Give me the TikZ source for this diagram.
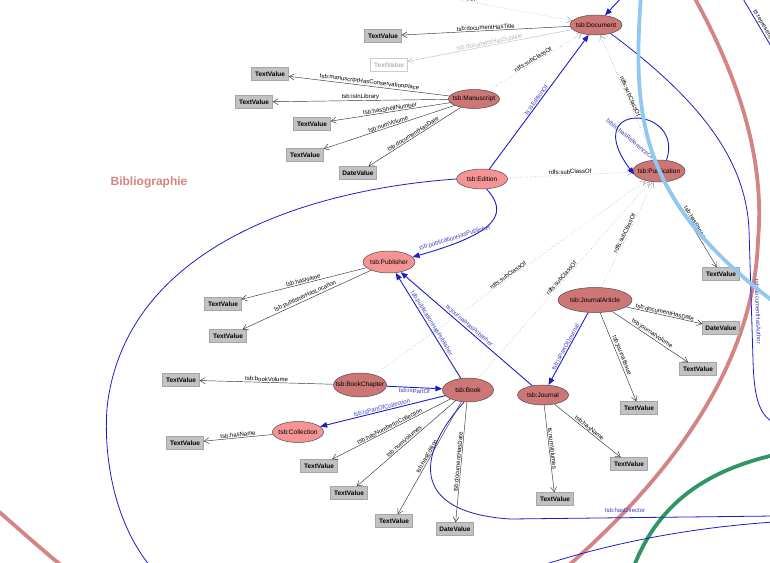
\documentclass[tikz,border=0pt]{standalone}
\usepackage{fontspec}
\setmainfont{Liberation Sans}
\usetikzlibrary{shapes.geometric,arrows.meta}
\definecolor{clsdark}{HTML}{CD7676}
\definecolor{clslight}{HTML}{F49494}
\definecolor{valgray}{HTML}{C2C2C2}
\definecolor{edgeblue}{HTML}{1C1CC8}
\definecolor{lblblue}{HTML}{3A3AB8}
\definecolor{arcred}{HTML}{D48484}
\definecolor{arcblue}{HTML}{90C8F0}
\definecolor{arcgreen}{HTML}{2F9661}
\definecolor{dotgray}{HTML}{9A9A9A}
\newcommand\ctr[1]{\makebox[0pt]{#1}}
\begin{document}
\begin{tikzpicture}[x=1pt,y=-1pt,
 sz/.style 2 args={minimum width=#1pt, minimum height=#2pt},
 cls/.style={ellipse, draw=black!70, line width=0.5pt, inner sep=0pt, font=\fontsize{6.5}{7}\selectfont},
 dark/.style={cls, fill=clsdark},
 light/.style={cls, fill=clslight},
 val/.style={rectangle, fill=valgray, draw=black!35, line width=0.4pt, inner sep=0pt, minimum width=37pt, minimum height=13pt, font=\fontsize{6.5}{7}\selectfont\bfseries},
 ghost/.style={val, fill=white, draw=black!20, text=black!30},
 prop/.style={draw=black!80, line width=0.45pt, -{Straight Barb[length=5pt,width=6pt]}},
 lbl/.style={font=\fontsize{6}{6.5}\selectfont, inner sep=0.8pt, sloped, above},
 blbl/.style={lbl, text=lblblue},
 freelbl/.style={font=\fontsize{6}{6.5}\selectfont, inner sep=0.8pt, text=lblblue},
 rel/.style={draw=edgeblue, line width=0.9pt, -{Triangle[length=7pt,width=5.5pt]}},
 rline/.style={draw=edgeblue, line width=0.8pt},
 sub/.style={draw=dotgray, line width=0.5pt, dotted, -{Straight Barb[length=5pt,width=6pt]}},
 arc/.style={line width=3.8pt}
]
\useasboundingbox (0,0) rectangle (770,562);
\clip (0,0) rectangle (770,562);

% background arcs
\draw[arc, draw=arcred] (693,-5) .. controls (740,80) and (765,160) .. (758,240) .. controls (755,340) and (700,450) .. (568,566);
\draw[arc, draw=arcred] (-3,510) .. controls (20,530) and (40,548) .. (62,566);
\draw[arc, draw=arcgreen] (634,566) .. controls (660,500) and (710,470) .. (774,455);

\node[font=\fontsize{12}{13}\selectfont\bfseries, text=arcred] (bib) at (149,182) {Bibliographie};

% classes
\node[dark, sz={52}{20}] (doc) at (596,25) {\ctr{tsb:Document}};
\node[dark, sz={51}{19}] (man) at (474,99) {\ctr{tsb:Manuscript}};
\node[light, sz={51}{20}] (edi) at (482,179) {\ctr{tsb:Edition}};
\node[dark, sz={52}{22}] (pub) at (659,171) {\ctr{tsb:Publication}};
\node[light, sz={52}{22}] (publ) at (389,262) {\ctr{tsb:Publisher}};
\node[dark, sz={74}{25}] (ja) at (595,300) {\ctr{tsb:JournalArticle}};
\node[dark, sz={53}{24}] (bc) at (360,385) {\ctr{tsb:BookChapter}};
\node[dark, sz={51}{24}] (book) at (468,390) {\ctr{tsb:Book}};
\node[light, sz={51}{21}] (coll) at (298,432) {\ctr{tsb:Collection}};
\node[dark, sz={51}{20}] (jour) at (543,395) {\ctr{tsb:Journal}};

% values
\node[val] (v1) at (383,36) {\ctr{TextValue}};
\node[ghost] (v2) at (389,65) {\ctr{TextValue}};
\node[val] (v3) at (270,74) {\ctr{TextValue}};
\node[val] (v4) at (254,102) {\ctr{TextValue}};
\node[val] (v5) at (312,124) {\ctr{TextValue}};
\node[val] (v6) at (305,155) {\ctr{TextValue}};
\node[val] (v7) at (358,173) {\ctr{DateValue}};
\node[val] (v8) at (223,304) {\ctr{TextValue}};
\node[val] (v9) at (228,336) {\ctr{TextValue}};
\node[val] (v10) at (181,380) {\ctr{TextValue}};
\node[val] (v11) at (185,443) {\ctr{TextValue}};
\node[val] (v12) at (319,466) {\ctr{TextValue}};
\node[val] (v13) at (349,493) {\ctr{TextValue}};
\node[val] (v14) at (394,521) {\ctr{TextValue}};
\node[val] (v15) at (455,529) {\ctr{DateValue}};
\node[val] (v16) at (555,499) {\ctr{TextValue}};
\node[val] (v17) at (629,464) {\ctr{TextValue}};
\node[val] (v18) at (639,408) {\ctr{TextValue}};
\node[val] (v19) at (698,369) {\ctr{TextValue}};
\node[val] (v20) at (721,328) {\ctr{DateValue}};
\node[val] (v21) at (721,274) {\ctr{TextValue}};

% free ends
\coordinate (topin) at (623,-4);
\coordinate (topsub) at (438,-4);
\coordinate (tr1) at (742,-3);
\coordinate (tr2) at (775,53);

% Document
\draw[sub] (topsub) -- node[lbl, pos=0.12]{rdfs:subClassOf} (doc);
\draw[rel] (topin) -- (doc);
\draw[prop] (doc) -- node[lbl]{tsb:documentHasTitle} (v1);
\draw[prop, draw=black!25] (doc) -- node[lbl, text=black!30]{tsb:documentHasSubtitle} (v2);
\draw[rline] (doc.-30) .. controls (700,100) and (746,160) .. (749,230) -- (753,360) .. controls (754,400) and (760,415) .. (774,423);
\node[freelbl, rotate=-88] (authlbl) at (758,312) {tsb:documentHasAuthor};
\draw[rline] (tr1) -- node[blbl, pos=0.62, text=black]{ts:representation} (tr2);

% Manuscript
\draw[prop] (man) -- node[lbl]{tsb:manuscriptHasConservationPlace} (v3);
\draw[prop] (man) -- node[lbl]{tsb:isInLibrary} (v4);
\draw[prop] (man) -- node[lbl]{tsb:hasShelfNumber} (v5);
\draw[prop] (man) -- node[lbl]{tsb:numVolume} (v6);
\draw[prop] (man) -- node[lbl]{tsb:documentHasDate} (v7);
\draw[sub] (man) -- node[lbl]{rdfs:subClassOf} (doc);

% Edition
\draw[rel] (edi) -- node[blbl]{ts:isEditionOf} (doc);
\draw[sub] (edi) -- node[lbl]{rdfs:subClassOf} (pub);
\draw[rel] (edi.-65) .. controls (507,212) and (502,232) .. (publ.12);
\node[freelbl, rotate=17] (phplbl) at (455,238) {tsb:publicationHasPublisher};
\draw[rline] (edi.west) .. controls (300,190) and (130,250) .. (108,400) .. controls (103.6,430) and (105,510) .. (150,566);

% Publication
\draw[sub] (pub) -- node[lbl]{rdfs:subClassOf} (doc);
\draw[rel] (pub.55) .. controls (685,105) and (578,100) .. (pub.188);
\node[freelbl, rotate=-40] (looplbl) at (630,139) {biblio:hasReferenceOf};
\draw[prop] (pub) -- node[lbl]{tsb:hasPages} (v21);

% Publisher
\draw[prop] (publ) -- node[lbl]{tsb:hasName} (v8);
\draw[prop] (publ) -- node[lbl]{tsb:publisherHasLocation} (v9);

% JournalArticle
\draw[rel] (ja) -- node[blbl]{tsb:isPartOfJournal} (jour);
\draw[prop] (ja) -- node[lbl]{tsb:documentHasDate} (v20);
\draw[prop] (ja) -- node[lbl]{tsb:journalVolume} (v19);
\draw[prop] (ja) -- node[lbl]{tsb:journalIssue} (v18);
\draw[sub] (ja) -- node[lbl]{rdfs:subClassOf} (pub);

% Journal
\draw[rel] (jour) -- node[blbl]{ts:journalHasPublisher} (publ);
\draw[prop] (jour) -- node[lbl]{ts:numVolumes} (v16);
\draw[prop] (jour) -- node[lbl]{tsb:hasName} (v17);

% BookChapter
\draw[prop] (bc) -- node[lbl]{tsb:bookVolume} (v10);
\draw[rel] (bc) -- node[blbl, below]{tsb:isPartOf} (book);
\draw[sub] (bc) -- node[lbl]{rdfs:subClassOf} (pub);

% Book
\draw[rel] (book) -- node[blbl]{tsb:publicationHasPublisher} (publ);
\draw[rel] (book) -- node[blbl]{tsb:isPartOfCollection} (coll);
\draw[prop] (coll) -- node[lbl]{tsb:hasName} (v11);
\draw[prop] (book) -- node[lbl]{tsb:hasNumberInCollection} (v12);
\draw[prop] (book) -- node[lbl]{tsb:numVolumes} (v13);
\draw[prop] (book) -- node[lbl]{tsb:hasEdition} (v14);
\draw[prop] (book) -- node[lbl]{tsb:documentHasDate} (v15);
\draw[sub] (book) -- node[lbl]{rdfs:subClassOf} (pub);
\draw[rline] (book.-108) .. controls (420,450) and (405,512) .. (510,519) -- (774,516);
\node[freelbl] (dirlbl) at (625,510) {tsb:hasDirector};
\draw[rline] (540,566) .. controls (620,540) and (700,527) .. (774,522);

% foreground arc
\draw[arc, draw=arcblue] (641,-5) .. controls (632,120) and (640,200) .. (774,302);
\end{tikzpicture}
\end{document}
